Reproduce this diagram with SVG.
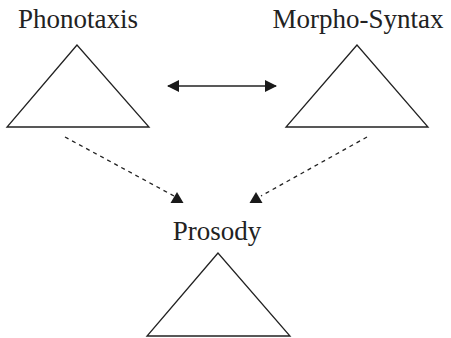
<svg xmlns="http://www.w3.org/2000/svg" width="451" height="338" viewBox="0 0 451 338">
  <defs>
    <marker id="head" viewBox="0 0 12 12" refX="11" refY="6" markerWidth="12" markerHeight="12" markerUnits="userSpaceOnUse" orient="auto-start-reverse">
      <path d="M0,0 L12,6 L0,12 Z" fill="#1a1a1a"/>
    </marker>
  </defs>
  <style>
    .label { font-family: "Liberation Serif", "Times New Roman", serif; font-size: 27px; fill: #222; text-anchor: middle; }
    .tri { fill: none; stroke: #222; stroke-width: 1.3; stroke-linejoin: miter; }
    .link { fill: none; stroke: #222; stroke-width: 1.3; }
    .dash { stroke-dasharray: 4 4; }
    .tip { fill: #1a1a1a; }
  </style>
  <rect width="451" height="338" fill="#fff"/>

  <g id="phonotaxis">
    <text class="label" x="78" y="28">Phonotaxis</text>
    <path class="tri" d="M77,45 L7,127 L149,127 Z"/>
  </g>

  <g id="morpho-syntax">
    <text class="label" x="358" y="28">Morpho-Syntax</text>
    <path class="tri" d="M357,45 L286,127 L428,127 Z"/>
  </g>

  <g id="prosody">
    <text class="label" x="217" y="240">Prosody</text>
    <path class="tri" d="M218,253 L147,336 L290,336 Z"/>
  </g>

  <g id="connectors">
    <line class="link" x1="168" y1="86" x2="276" y2="86" marker-start="url(#head)" marker-end="url(#head)"/>
    <line class="link dash" x1="65" y1="137" x2="174" y2="196"/>
    <path class="tip" d="M177,192 L170.5,203 L183.5,203 Z"/>
    <line class="link dash" x1="367" y1="137" x2="261" y2="196"/>
    <path class="tip" d="M256,192 L249.5,203 L262.5,203 Z"/>
  </g>
</svg>
